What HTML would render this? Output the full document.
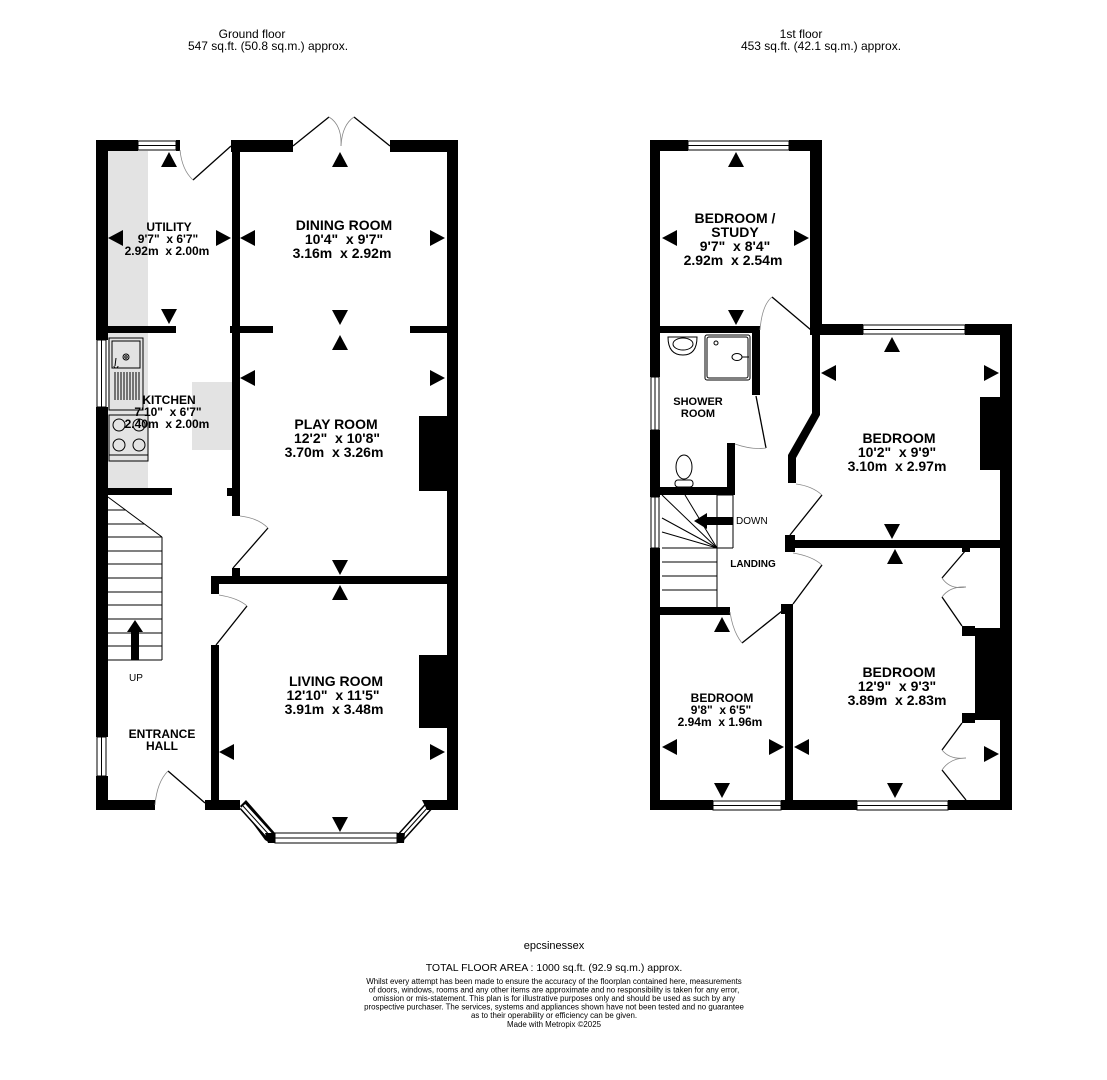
<!DOCTYPE html>
<html><head><meta charset="utf-8"><style>
html,body{margin:0;padding:0;background:#fff;}
svg{display:block;font-family:"Liberation Sans",Arial,sans-serif;}
svg text{white-space:pre;}
.b{font-weight:bold;}
</style></head><body>
<svg width="1107" height="1080" viewBox="0 0 1107 1080" xmlns="http://www.w3.org/2000/svg" xml:space="preserve">
<defs>
<path id="t" d="M-8,7 L8,7 L0,-8Z" fill="#000"/>
</defs>
<rect width="1107" height="1080" fill="#fff"/>

<g font-size="12" text-anchor="middle" fill="#000">
<text x="252" y="38">Ground floor</text>
<text x="268" y="50">547 sq.ft. (50.8 sq.m.) approx.</text>
<text x="801" y="38">1st floor</text>
<text x="821" y="50">453 sq.ft. (42.1 sq.m.) approx.</text>
</g>

<rect x="108" y="151" width="40" height="175" fill="#e3e3e3"/>
<rect x="108" y="333" width="40" height="155" fill="#e3e3e3"/>
<rect x="192" y="382" width="40" height="68" fill="#e3e3e3"/>

<g fill="#000">
<rect x="96" y="140" width="12" height="200"/>
<rect x="96" y="407" width="12" height="330"/>
<rect x="96" y="776" width="12" height="34"/>
<rect x="96" y="140" width="42" height="11"/>
<rect x="176" y="140" width="4" height="11"/>
<rect x="231" y="140" width="62" height="12"/>
<rect x="390" y="140" width="68" height="12"/>
<rect x="447" y="140" width="11" height="670"/>
<rect x="232" y="140" width="8" height="376"/>
<rect x="227" y="488" width="6" height="8"/>
<rect x="232" y="568" width="8" height="10"/>
<rect x="108" y="326" width="68" height="7"/>
<rect x="230" y="326" width="43" height="7"/>
<rect x="410" y="326" width="37" height="7"/>
<rect x="108" y="488" width="64" height="7"/>
<rect x="211" y="576" width="236" height="8"/>
<rect x="211" y="576" width="8" height="18"/>
<rect x="211" y="645" width="8" height="165"/>
<rect x="96" y="800" width="59" height="10"/>
<rect x="205" y="800" width="35" height="10"/>
<rect x="427" y="800" width="31" height="10"/>
<rect x="419" y="416" width="28" height="75"/>
<rect x="419" y="655" width="28" height="73"/>
</g>
<g fill="#fff" stroke="#000" stroke-width="1">
<rect x="138" y="141" width="38" height="9"/>
<line x1="138" y1="145.5" x2="176" y2="145.5"/>
<rect x="97" y="340" width="9" height="67"/>
<line x1="101.5" y1="340" x2="101.5" y2="407"/>
<rect x="97" y="737" width="9" height="39"/>
<line x1="101.5" y1="737" x2="101.5" y2="776"/>
<rect x="275" y="833" width="122" height="10"/>
<line x1="275" y1="838" x2="397" y2="838"/>
</g>
<g>
<polygon points="240,806 246,800 275,833 270,843 265,840" fill="#000"/>
<line x1="243" y1="806" x2="272" y2="838" stroke="#000" stroke-width="9"/>
<line x1="243" y1="806" x2="272" y2="838" stroke="#fff" stroke-width="6"/>
<line x1="243" y1="806" x2="272" y2="838" stroke="#000" stroke-width="1"/>
<polygon points="265,833 275,833 275,843 268,843" fill="#000"/>
<line x1="429" y1="806" x2="400" y2="838" stroke="#000" stroke-width="9"/>
<line x1="429" y1="806" x2="400" y2="838" stroke="#fff" stroke-width="6"/>
<line x1="429" y1="806" x2="400" y2="838" stroke="#000" stroke-width="1"/>
<polygon points="397,833 405,833 404,843 397,843" fill="#000"/>
<polygon points="422,800 432,800 432,810 427,810" fill="#000"/>
</g>
<g fill="none" stroke="#000" stroke-width="1.3">
<line x1="193" y1="180" x2="231" y2="146"/>
<line x1="293" y1="146" x2="329" y2="117"/>
<line x1="390" y1="146" x2="354" y2="117"/>
<line x1="268" y1="528" x2="233" y2="568"/>
<line x1="247" y1="606" x2="216" y2="645"/>
<line x1="168" y1="771" x2="205" y2="803"/>
</g>
<g fill="none" stroke="#888" stroke-width="0.8">
<path d="M180,150 Q182,170 193,180"/>
<path d="M329,117 Q342,125 341,146"/>
<path d="M354,117 Q342,125 341,146"/>
<path d="M240,516 Q258,518 268,528"/>
<path d="M219,595 Q238,598 247,606"/>
<path d="M155,805 Q157,782 168,771"/>
</g>
<g fill="none" stroke="#000" stroke-width="1">
<rect x="109" y="338" width="34" height="72"/>
<rect x="112" y="341" width="28" height="27"/>
<circle cx="126" cy="357" r="3"/>
<circle cx="126" cy="357" r="1.2"/>
<path d="M116,358 L115,366 M114,366 a2,2 0 1 0 4,0"/>
<line x1="115" y1="372" x2="115" y2="400"/><line x1="121" y1="372" x2="121" y2="400"/><line x1="127" y1="372" x2="127" y2="400"/><line x1="133" y1="372" x2="133" y2="400"/><line x1="139" y1="372" x2="139" y2="400"/>
<line x1="118" y1="372" x2="118" y2="400"/><line x1="124" y1="372" x2="124" y2="400"/><line x1="130" y1="372" x2="130" y2="400"/><line x1="136" y1="372" x2="136" y2="400"/>
<rect x="109" y="415" width="39" height="46"/>
<circle cx="119" cy="425" r="6"/><circle cx="139" cy="425" r="6"/><circle cx="119" cy="445" r="6"/><circle cx="139" cy="445" r="6"/>
<line x1="109" y1="455" x2="148" y2="455"/>
</g>
<g fill="none" stroke="#000" stroke-width="1">
<line x1="108" y1="497" x2="162" y2="537"/>
<line x1="162" y1="537" x2="162" y2="660"/>
<line x1="108" y1="660" x2="162" y2="660"/>
<line x1="108" y1="510" x2="126" y2="510"/>
<line x1="108" y1="524" x2="144" y2="524"/>
<line x1="108" y1="537" x2="162" y2="537"/>
<line x1="108" y1="551" x2="162" y2="551"/>
<line x1="108" y1="564" x2="162" y2="564"/>
<line x1="108" y1="578" x2="162" y2="578"/>
<line x1="108" y1="592" x2="162" y2="592"/>
<line x1="108" y1="605" x2="162" y2="605"/>
<line x1="108" y1="619" x2="162" y2="619"/>
<line x1="108" y1="633" x2="162" y2="633"/>
<line x1="108" y1="646" x2="162" y2="646"/>
</g>
<polygon points="131,660 131,632 127,632 135,620 143,632 139,632 139,660" fill="#000"/>

<g fill="#000">
<rect x="650" y="140" width="10" height="237"/>
<rect x="650" y="430" width="10" height="67"/>
<rect x="650" y="548" width="10" height="262"/>
<rect x="650" y="140" width="38" height="11"/>
<rect x="789" y="140" width="33" height="11"/>
<rect x="810" y="140" width="12" height="195"/>
<rect x="810" y="324" width="53" height="11"/>
<rect x="965" y="324" width="47" height="11"/>
<rect x="1000" y="324" width="12" height="486"/>
<rect x="660" y="326" width="100" height="7"/>
<rect x="752" y="326" width="8" height="69"/>
<rect x="727" y="443" width="8" height="52"/>
<rect x="660" y="487" width="75" height="8"/>
<polygon points="812,330 820,330 820,415 796,458 796,483 788,483 788,455 812,413"/>
<rect x="785" y="535" width="10" height="17"/>
<rect x="785" y="540" width="215" height="8"/>
<rect x="962" y="546" width="8" height="6"/>
<rect x="781" y="604" width="12" height="10"/>
<rect x="785" y="604" width="8" height="206"/>
<rect x="660" y="607" width="70" height="8"/>
<rect x="975" y="628" width="25" height="92"/>
<rect x="962" y="626" width="13" height="10"/>
<rect x="962" y="713" width="13" height="10"/>
<rect x="980" y="397" width="20" height="73"/>
<rect x="650" y="800" width="63" height="10"/>
<rect x="781" y="800" width="76" height="10"/>
<rect x="948" y="800" width="64" height="10"/>
</g>
<g fill="#fff" stroke="#000" stroke-width="1">
<rect x="688" y="141" width="101" height="9"/><line x1="688" y1="145.5" x2="789" y2="145.5"/>
<rect x="863" y="325" width="102" height="9"/><line x1="863" y1="329.5" x2="965" y2="329.5"/>
<rect x="651" y="377" width="8" height="53"/><line x1="655" y1="377" x2="655" y2="430"/>
<rect x="651" y="497" width="8" height="51"/><line x1="655" y1="497" x2="655" y2="548"/>
<rect x="713" y="801" width="68" height="9"/><line x1="713" y1="805.5" x2="781" y2="805.5"/>
<rect x="857" y="801" width="91" height="9"/><line x1="857" y1="805.5" x2="948" y2="805.5"/>
</g>
<g fill="none" stroke="#000" stroke-width="1.3">
<line x1="772" y1="297" x2="811" y2="330"/>
<line x1="756" y1="396" x2="766" y2="448"/>
<line x1="822" y1="495" x2="790" y2="535"/>
<line x1="822" y1="565" x2="793" y2="604"/>
<line x1="742" y1="643" x2="782" y2="611"/>
<line x1="966" y1="550" x2="942" y2="578"/>
<line x1="942" y1="597" x2="962" y2="626"/>
<line x1="962" y1="723" x2="942" y2="750"/>
<line x1="942" y1="770" x2="966" y2="800"/>
</g>
<g fill="none" stroke="#888" stroke-width="0.8">
<path d="M760,330 Q762,305 772,297"/>
<path d="M735,444 Q752,450 766,448"/>
<path d="M796,484 Q812,486 822,495"/>
<path d="M793,553 Q812,556 822,565"/>
<path d="M730,612 Q733,632 742,643"/>
<path d="M942,578 Q950,590 966,587"/>
<path d="M942,597 Q950,586 966,587"/>
<path d="M942,750 Q950,760 966,758"/>
<path d="M942,770 Q950,758 966,758"/>
</g>
<g fill="none" stroke="#000" stroke-width="1">
<path d="M668,337 L697,337 Q697,355 683,355 Q668,355 668,337Z"/>
<ellipse cx="683" cy="344" rx="10" ry="6"/>
<rect x="705" y="335" width="45" height="45" rx="2"/>
<rect x="707" y="337" width="41" height="41" rx="2"/>
<circle cx="716" cy="343" r="2"/>
<ellipse cx="737" cy="357" rx="5" ry="3.5"/>
<line x1="742" y1="357" x2="749" y2="357"/>
<ellipse cx="684" cy="467" rx="8" ry="12"/>
<rect x="675" y="480" width="18" height="7" rx="3"/>
</g>
<g fill="none" stroke="#000" stroke-width="1">
<line x1="662" y1="495" x2="717" y2="548"/>
<line x1="685" y1="495" x2="717" y2="548"/>
<line x1="662" y1="518" x2="717" y2="548"/>
<line x1="662" y1="532" x2="717" y2="548"/>
<line x1="717" y1="495" x2="717" y2="607"/>
<line x1="717" y1="495" x2="733" y2="495"/>
<line x1="733" y1="495" x2="733" y2="548"/>
<line x1="717" y1="520" x2="733" y2="520"/>
<line x1="662" y1="548" x2="733" y2="548"/>
<line x1="662" y1="562" x2="717" y2="562"/>
<line x1="662" y1="576" x2="717" y2="576"/>
<line x1="662" y1="590" x2="717" y2="590"/>
</g>
<polygon points="733,517 707,517 707,513 694,521 707,529 707,525 733,525" fill="#000"/>

<g>
<use href="#t" transform="translate(169,160)"/>
<use href="#t" transform="translate(169,316) rotate(180)"/>
<use href="#t" transform="translate(116,238) rotate(-90)"/>
<use href="#t" transform="translate(223,238) rotate(90)"/>
<use href="#t" transform="translate(340,160)"/>
<use href="#t" transform="translate(340,317) rotate(180)"/>
<use href="#t" transform="translate(248,238) rotate(-90)"/>
<use href="#t" transform="translate(437,238) rotate(90)"/>
<use href="#t" transform="translate(340,343)"/>
<use href="#t" transform="translate(248,378) rotate(-90)"/>
<use href="#t" transform="translate(437,378) rotate(90)"/>
<use href="#t" transform="translate(340,567) rotate(180)"/>
<use href="#t" transform="translate(340,593)"/>
<use href="#t" transform="translate(227,752) rotate(-90)"/>
<use href="#t" transform="translate(437,752) rotate(90)"/>
<use href="#t" transform="translate(340,824) rotate(180)"/>
<use href="#t" transform="translate(736,160)"/>
<use href="#t" transform="translate(736,317) rotate(180)"/>
<use href="#t" transform="translate(670,238) rotate(-90)"/>
<use href="#t" transform="translate(801,238) rotate(90)"/>
<use href="#t" transform="translate(892,345)"/>
<use href="#t" transform="translate(829,373) rotate(-90)"/>
<use href="#t" transform="translate(991,373) rotate(90)"/>
<use href="#t" transform="translate(892,531) rotate(180)"/>
<use href="#t" transform="translate(895,557)"/>
<use href="#t" transform="translate(802,747) rotate(-90)"/>
<use href="#t" transform="translate(991,754) rotate(90)"/>
<use href="#t" transform="translate(895,790) rotate(180)"/>
<use href="#t" transform="translate(722,625)"/>
<use href="#t" transform="translate(670,747) rotate(-90)"/>
<use href="#t" transform="translate(776,747) rotate(90)"/>
<use href="#t" transform="translate(722,790) rotate(180)"/>
</g>

<g text-anchor="middle" fill="#000" class="b">
<g font-size="12"><text x="169" y="231">UTILITY</text><text x="168" y="243">9'7"  x 6'7"</text><text x="167" y="255">2.92m  x 2.00m</text></g>
<g font-size="14"><text x="344" y="230">DINING ROOM</text><text x="344" y="244">10'4"  x 9'7"</text><text x="342" y="258">3.16m  x 2.92m</text></g>
<g font-size="12"><text x="169" y="404">KITCHEN</text><text x="168" y="416">7'10"  x 6'7"</text><text x="167" y="428">2.40m  x 2.00m</text></g>
<g font-size="14"><text x="336" y="429">PLAY ROOM</text><text x="337" y="443">12'2"  x 10'8"</text><text x="334" y="457">3.70m  x 3.26m</text></g>
<g font-size="14"><text x="336" y="686">LIVING ROOM</text><text x="333" y="700">12'10"  x 11'5"</text><text x="334" y="714">3.91m  x 3.48m</text></g>
<g font-size="12"><text x="162" y="738">ENTRANCE</text><text x="162" y="750">HALL</text></g>
<g font-size="14"><text x="735" y="223">BEDROOM /</text><text x="735" y="237">STUDY</text><text x="735" y="251">9'7"  x 8'4"</text><text x="733" y="265">2.92m  x 2.54m</text></g>
<g font-size="11"><text x="698" y="405">SHOWER</text><text x="698" y="417">ROOM</text></g>
<g font-size="14"><text x="899" y="443">BEDROOM</text><text x="897" y="457">10'2"  x 9'9"</text><text x="897" y="471">3.10m  x 2.97m</text></g>
<g font-size="14"><text x="899" y="677">BEDROOM</text><text x="897" y="691">12'9"  x 9'3"</text><text x="897" y="705">3.89m  x 2.83m</text></g>
<g font-size="12"><text x="722" y="702">BEDROOM</text><text x="721" y="714">9'8"  x 6'5"</text><text x="720" y="726">2.94m  x 1.96m</text></g>
<g font-size="10"><text x="753" y="567">LANDING</text></g>
</g>
<g font-size="10" fill="#000">
<text x="129" y="681">UP</text>
<text x="736" y="524">DOWN</text>
</g>

<g text-anchor="middle" fill="#000">
<text x="554" y="949" font-size="11">epcsinessex</text>
<text x="554" y="971" font-size="10.5">TOTAL FLOOR AREA : 1000 sq.ft. (92.9 sq.m.) approx.</text>
<g font-size="7.9">
<text x="554" y="984">Whilst every attempt has been made to ensure the accuracy of the floorplan contained here, measurements</text>
<text x="554" y="992.5">of doors, windows, rooms and any other items are approximate and no responsibility is taken for any error,</text>
<text x="554" y="1001">omission or mis-statement. This plan is for illustrative purposes only and should be used as such by any</text>
<text x="554" y="1009.5">prospective purchaser. The services, systems and appliances shown have not been tested and no guarantee</text>
<text x="554" y="1018">as to their operability or efficiency can be given.</text>
<text x="554" y="1027">Made with Metropix ©2025</text>
</g>
</g>
</svg>
</body></html>
